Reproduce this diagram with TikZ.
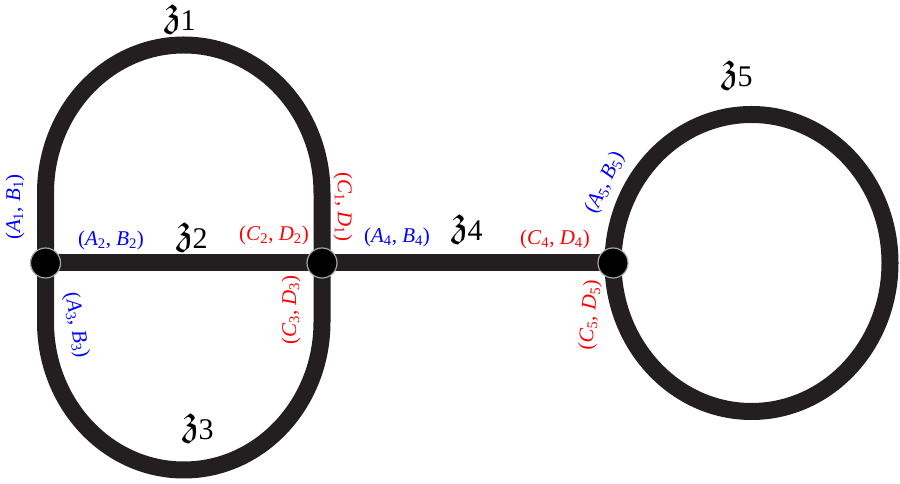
\documentclass[tikz,border=0pt]{standalone}
\usepackage{amssymb}
\usepackage{fontspec}
\setmainfont{Liberation Serif}
\usetikzlibrary{backgrounds}
\definecolor{wirec}{HTML}{231F20}
\newcommand\plab[3]{(\textit{#1}\textsubscript{#3}, \textit{#2}\textsubscript{#3})}
\newcommand\zlab[1]{\raisebox{5pt}{$\mathfrak{z}$}\kern-1pt{\fontsize{30}{30}\selectfont#1}}
\begin{document}
\begin{tikzpicture}[x=1pt,y=1pt,
  wire/.style={draw=wirec,line width=17pt},
  dot/.style={circle,fill=black,draw=black!35,line width=1.2pt,minimum size=30pt,inner sep=0pt},
  bl/.style={text=blue,font=\fontsize{21}{21}\selectfont,inner sep=0pt},
  rd/.style={text=red,font=\fontsize{21}{21}\selectfont,inner sep=0pt},
  zl/.style={font=\fontsize{44}{44}\selectfont,inner sep=0pt}]
\useasboundingbox (0,0) rectangle (900,484);
\node[dot] (L) at (45.5,221) {};
\node[dot] (M) at (322,221) {};
\node[dot] (R) at (613,221) {};
\begin{scope}[on background layer]
\draw[wire] (L.center) -- ++(0,70) arc[start angle=180,end angle=0,x radius=138.25,y radius=148] -- (M.center);
\draw[wire] (L.center) -- ++(0,-59) arc[start angle=180,end angle=360,x radius=138.25,y radius=148] -- (M.center);
\draw[wire] (L.center) -- (M.center) -- (R.center);
\draw[wire] (R.center) arc[start angle=180,end angle=-180,x radius=138.5,y radius=148.5];
\end{scope}
\node[zl] (z1) at (180,465) {\zlab{1}};
\node[zl] (z2) at (192,247) {\zlab{2}};
\node[zl] (z3) at (198,56) {\zlab{3}};
\node[zl] (z4) at (467,255) {\zlab{4}};
\node[zl] (z5) at (737,409) {\zlab{5}};
\node[bl,rotate=90] (ab1) at (15,277) {\plab{A}{B}{1}};
\node[bl] (ab2) at (111,244) {\plab{A}{B}{2}};
\node[bl,rotate=-80] (ab3) at (76,159) {\plab{A}{B}{3}};
\node[rd,rotate=-90] (cd1) at (343,277) {\plab{C}{D}{1}};
\node[rd] (cd2) at (274,249) {\plab{C}{D}{2}};
\node[rd,rotate=90] (cd3) at (291,174) {\plab{C}{D}{3}};
\node[bl] (ab4) at (397,247) {\plab{A}{B}{4}};
\node[rd] (cd4) at (555,245) {\plab{C}{D}{4}};
\node[bl,rotate=65] (ab5) at (605,301) {\plab{A}{B}{5}};
\node[rd,rotate=85] (cd5) at (590,169) {\plab{C}{D}{5}};
\end{tikzpicture}
\end{document}
